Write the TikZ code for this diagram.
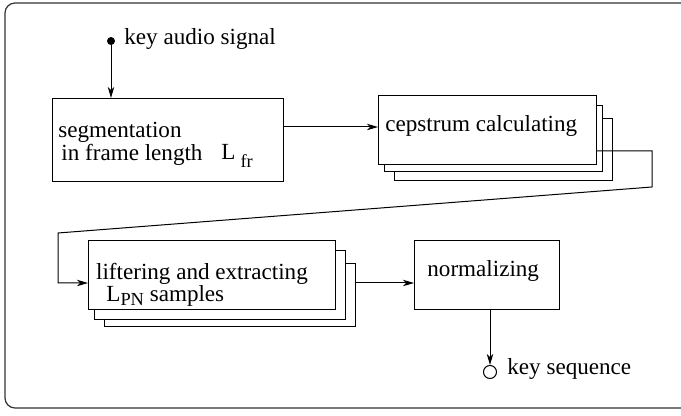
\documentclass[tikz,border=0pt]{standalone}
\usepackage{fontspec}
\setmainfont{Liberation Serif}
\usepackage{tikz}
\usetikzlibrary{arrows.meta, positioning}
\tikzset{
  blk/.style 2 args={draw, fill=white, line width=0.5pt, inner sep=0pt,
    anchor=north west, minimum width=#1, minimum height=#2},
  txt/.style={inner sep=0pt, anchor=base west, font=\fontsize{11.55}{13.9}\selectfont},
  flow/.style={line width=0.5pt, -{Stealth[length=5.5pt,width=3.2pt,inset=1.5pt]}},
  dot/.style={circle, fill, inner sep=0pt, minimum size=4pt},
  sink/.style={circle, draw, line width=0.5pt, inner sep=0pt, minimum size=6.5pt},
}
\newcommand{\lowsub}[2]{\raisebox{-#1}{\fontsize{9.2}{11}\selectfont #2}}

\begin{document}
\begin{tikzpicture}[x=0.5pt, y=-0.5pt]
\useasboundingbox (0,0) rectangle (681,416);
\draw[line width=0.6pt, black!80, rounded corners=5pt] (5,3) rectangle (700,408);

% input and segmentation
\node[dot] (src) at (111,41) {};
\node[txt] (srctxt) at (124,45) {key audio signal};
\node[blk={115.5pt}{41.5pt}] (seg) at (52,98) {};
\node[txt] (segtxt1) at (58,137.5) {segmentation};
\node[txt] (segtxt2) at (61,161) {in frame length};
\node[txt] (segL) at (221,160) {L\kern2.5pt\lowsub{4pt}{fr}};

% cepstrum stack
\node[blk={109pt}{31pt}] (cep3) at (394,118) {};
\node[blk={109pt}{33pt}] (cep2) at (384,105) {};
\node[blk={109pt}{34.5pt}] (cep) at (378,95) {};
\node[txt] (ceptxt) at (385,131.7) {cepstrum calculating};

% liftering stack
\node[blk={125.5pt}{31.5pt}] (lift3) at (104,263) {};
\node[blk={125.5pt}{34.5pt}] (lift2) at (94,250) {};
\node[blk={123.5pt}{34.5pt}] (lift) at (88,240) {};
\node[txt] (lifttxt1) at (95.7,280) {liftering and extracting};
\node[txt] (lifttxt2) at (106,302) {L\lowsub{2pt}{PN} samples};

% normalizing and output
\node[blk={72.5pt}{34.5pt}] (norm) at (414,240) {};
\node[txt] (normtxt) at (427,276.7) {normalizing};
\node[sink] (out) at (490,372) {};
\node[txt] (outtxt) at (507,375) {key sequence};

% connectors
\coordinate (r1) at (0,127);
\coordinate (b1) at (652,151);
\coordinate (b2) at (652,187);
\coordinate (b3) at (58,233);
\coordinate (b4) at (58,283);
\draw[flow] (src) -- (src |- seg.north);
\draw[flow] (seg.east |- r1) -- (cep.west |- r1);
\draw[flow] (cep.east |- b1) -- (b1) -- (b2) -- (b3) -- (b4) -- (lift.west |- b4);
\draw[flow] (lift3.east |- b4) -- (norm.west |- b4);
\draw[flow] (out |- norm.south) -- (out.north);
\end{tikzpicture}
\end{document}
